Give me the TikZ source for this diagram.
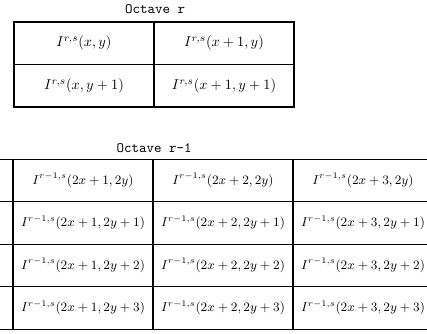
\documentclass[tikz,border=0pt]{standalone}
\usepackage{amsmath}
\usetikzlibrary{positioning}
\tikzset{
  cell/.style={draw, line width=0.8pt, minimum width=98pt, minimum height=29.75pt, inner sep=0pt},
  smallcell/.style={cell, font=\fontsize{9}{11}\selectfont},
  octave/.style={font=\ttfamily}
}

\begin{document}
\begin{tikzpicture}[x=0.7pt,y=-0.7pt]
  \useasboundingbox (0,0) rectangle (427,333);
  \clip (0,0) rectangle (427,333);
  % octave r
  \node[octave] (titleR) at (155,9) {Octave r};
  \node[cell] (a00) at (84,43.25) {$I^{r,s}(x,y)$};
  \node[cell] (a01) at (224,43.25) {$I^{r,s}(x+1,y)$};
  \node[cell] (a10) at (84,85.75) {$I^{r,s}(x,y+1)$};
  \node[cell] (a11) at (224,85.75) {$I^{r,s}(x+1,y+1)$};
  % octave r-1
  \node[octave] (titleRm) at (154,148) {Octave r-1};
  \foreach \row/\yy in {0/180.5,1/223,2/265.5,3/308} {
    \node[cell] (b\row0) at (-57,\yy) {};
    \foreach \col/\xx in {1/83,2/223,3/363}
      \node[smallcell] (b\row\col) at (\xx,\yy) {$I^{r-1,s}(2x+\col,2y\ifnum\row>0 +\row\fi)$};
  }
\end{tikzpicture}
\end{document}
